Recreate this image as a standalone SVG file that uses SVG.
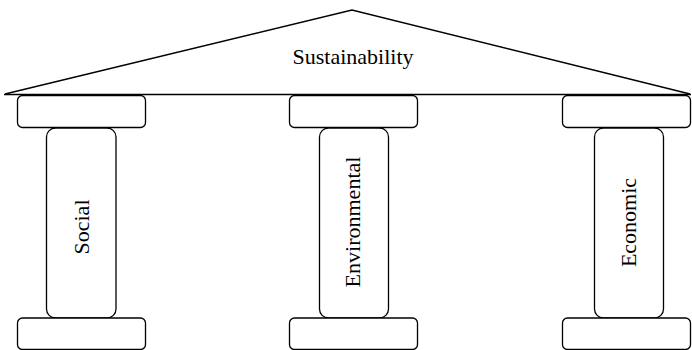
<svg xmlns="http://www.w3.org/2000/svg" width="692" height="350" viewBox="0 0 692 350">
  <style>
    .part { fill: #ffffff; stroke: #000000; stroke-width: 1.3; }
    .roof { fill: none; stroke: #000000; stroke-width: 1.5; stroke-linejoin: miter; }
    .label { font-family: "Liberation Serif", "Times New Roman", serif; font-size: 22px; fill: #000000; text-anchor: middle; dominant-baseline: central; }
  </style>

  <!-- Pediment -->
  <g id="roof">
    <polyline class="roof" points="5,94 352,10 690,94"/>
    <line class="roof" x1="4" y1="94.5" x2="691" y2="94.5"/>
    <text class="label" x="353" y="56">Sustainability</text>
  </g>

  <!-- Pillar: Social -->
  <g id="pillar-social">
    <rect class="part" x="17.5" y="95.5" width="128" height="32" rx="5"/>
    <rect class="part" x="46.5" y="128" width="69.5" height="190" rx="9"/>
    <rect class="part" x="17.5" y="318" width="128" height="31.5" rx="5"/>
    <text class="label" transform="translate(81,227) rotate(-90)">Social</text>
  </g>

  <!-- Pillar: Environmental -->
  <g id="pillar-environmental">
    <rect class="part" x="289.5" y="95.5" width="128" height="32" rx="5"/>
    <rect class="part" x="319.5" y="128" width="69" height="190" rx="9"/>
    <rect class="part" x="289.5" y="318" width="128" height="31.5" rx="5"/>
    <text class="label" transform="translate(352,222) rotate(-90)">Environmental</text>
  </g>

  <!-- Pillar: Economic -->
  <g id="pillar-economic">
    <rect class="part" x="562.5" y="95.5" width="128" height="32" rx="5"/>
    <rect class="part" x="594.5" y="128" width="69" height="190" rx="9"/>
    <rect class="part" x="562.5" y="318" width="128" height="31.5" rx="5"/>
    <text class="label" transform="translate(628.5,222.5) rotate(-90)">Economic</text>
  </g>

  <g id="connectors"></g>
</svg>
